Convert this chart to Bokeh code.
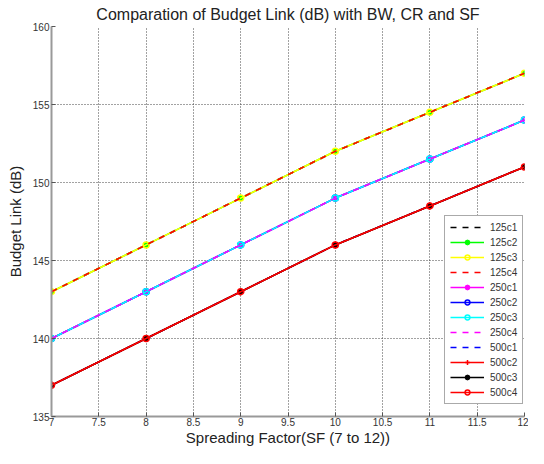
from bokeh.plotting import figure
from bokeh.models import FixedTicker, Legend, LegendItem
from bokeh.embed import file_html
from bokeh.resources import INLINE

sf = [7, 8, 9, 10, 11, 12]
budget_125 = [143, 146, 149, 152, 154.5, 157]
budget_250 = [140, 143, 146, 149, 151.5, 154]
budget_500 = [137, 140, 143, 146, 148.5, 151]

series_names = ["125c1", "125c2", "125c3", "125c4",
                "250c1", "250c2", "250c3", "250c4",
                "500c1", "500c2", "500c3", "500c4"]
series_values = [budget_125] * 4 + [budget_250] * 4 + [budget_500] * 4
colors = ["black", "#00ff00", "#ffff00", "#ff0000",
          "#ff00ff", "#0000ff", "#00ffff", "#ff00ff",
          "#0000ff", "#ff0000", "black", "#ff0000"]
dashes = ["dashed", "solid", "solid", "dashed",
          "solid", "solid", "solid", "dashed",
          "dashed", "solid", "solid", "solid"]
markers = [None, "dot", "circle", None,
           "dot", "circle", "circle", None,
           None, "cross", "dot", "circle"]

x_ticks = [7, 7.5, 8, 8.5, 9, 9.5, 10, 10.5, 11, 11.5, 12]
y_ticks = [135, 140, 145, 150, 155, 160]

FONT = "Liberation Sans"

p = figure(width=528, height=448, output_backend="svg", toolbar_location=None,
           x_range=(7, 12), y_range=(135, 160),
           min_border_left=51, min_border_right=4, min_border_top=22,
           min_border_bottom=0,
           title="Comparation of Budget Link (dB) with BW, CR and SF")
p.title.align = "center"
p.title.text_font = FONT
p.title.text_font_size = "16px"
p.title.text_font_style = "normal"
p.title.text_color = "#222222"
p.title.offset = -12
p.title.standoff = 7
p.outline_line_color = None

for ax, ticks in ((p.xaxis, x_ticks), (p.yaxis, y_ticks)):
    ax.ticker = FixedTicker(ticks=ticks)
    ax.axis_line_color = "#999999"
    ax.axis_line_width = 2
    ax.major_tick_in = 4
    ax.major_tick_out = 0
    ax.major_tick_line_color = "#555555"
    ax.minor_tick_line_color = None
    ax.major_label_text_font = FONT
    ax.major_label_text_font_size = "10px"
    ax.major_label_text_color = "#333333"
    ax.axis_label_text_font = FONT
    ax.axis_label_text_font_size = "15px"
    ax.axis_label_text_font_style = "normal"
    ax.axis_label_text_color = "#222222"

p.xaxis.major_label_overrides = {t: ("%g" % t) for t in x_ticks}
p.xaxis.axis_label = "Spreading Factor(SF (7 to 12))"
p.yaxis.axis_label = "Budget Link (dB)"
p.xaxis.axis_label_standoff = 0
p.yaxis.axis_label_standoff = 6
p.xaxis.major_label_standoff = 1
p.yaxis.major_label_standoff = 2

for g in (p.xgrid, p.ygrid):
    g.grid_line_color = "#444444"
    g.grid_line_dash = "1 2"
    g.grid_line_width = 1

items = []
for name, vals, c, d, m in zip(series_names, series_values, colors, dashes, markers):
    rs = [p.line(sf, vals, line_color=c, line_dash=d, line_width=1.6)]
    if m == "circle":
        rs.append(p.scatter(sf, vals, marker="circle", size=6, line_color=c,
                            fill_color=None, line_width=1.5))
    elif m == "dot":
        rs.append(p.scatter(sf, vals, marker="circle", size=5, line_color=c,
                            fill_color=c))
    elif m == "cross":
        rs.append(p.scatter(sf, vals, marker="cross", size=7, line_color=c,
                            line_width=1.5))
    items.append(LegendItem(label=name, renderers=rs))

legend = Legend(items=items, location=(393, 12))
legend.label_text_font = FONT
legend.label_text_font_size = "10px"
legend.label_text_color = "#333333"
legend.glyph_width = 34
legend.glyph_height = 12
legend.spacing = 3
legend.padding = 5
legend.margin = 0
legend.label_height = 12
legend.label_standoff = 6
legend.border_line_color = "#555555"
legend.border_line_width = 1
legend.background_fill_alpha = 1
p.add_layout(legend, "center")

open("out.html", "w").write(file_html(p, INLINE))
